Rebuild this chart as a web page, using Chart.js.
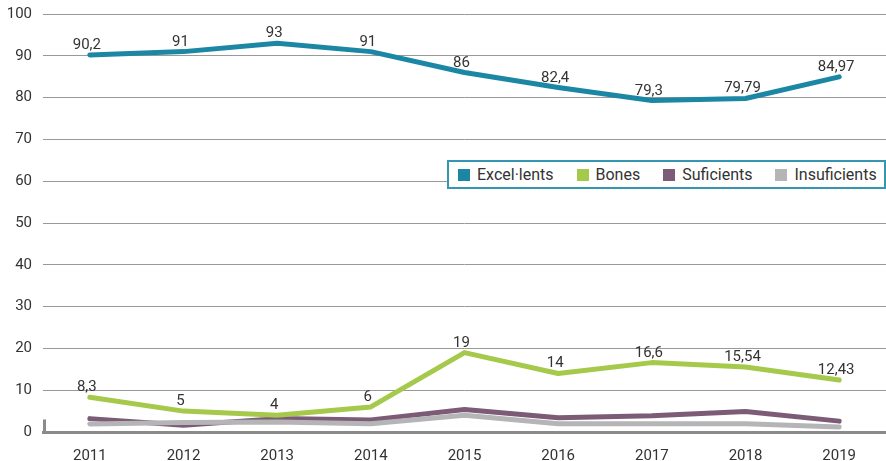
<!DOCTYPE html>
<html>
<head>
<meta charset="utf-8">
<script src="https://cdn.jsdelivr.net/npm/chart.js@4/dist/chart.umd.min.js"></script>
<style>
  html, body { margin: 0; padding: 0; background: #fff; }
  #wrap { position: relative; width: 886px; height: 461px; }
  #chart { position: absolute; left: 0; top: 0; }
  #legend {
    position: absolute; left: 447px; top: 160px; width: 426px; height: 25px;
    border: 2px solid #3596b2; background: #fff;
    font: 16px Roboto, "Liberation Sans", sans-serif; color: #333;
    display: flex; align-items: center; padding-left: 9px; box-sizing: content-box;
  }
  #legend .item { display: flex; align-items: center; margin-right: 23px; white-space: nowrap; }
  #legend .sw { width: 12px; height: 12px; margin-right: 7px; }
</style>
</head>
<body>
<div id="wrap">
  <canvas id="chart" width="886" height="461"></canvas>
  <div id="legend"></div>
</div>
<script>
// Categories and series
const years = ['2011', '2012', '2013', '2014', '2015', '2016', '2017', '2018', '2019'];
const excelLents   = [90.2, 91, 93, 91, 86, 82.4, 79.3, 79.79, 84.97];
const bones        = [8.3, 5, 4, 6, 19, 14, 16.6, 15.54, 12.43];
const suficients   = [3.2, 1.6, 3.2, 2.9, 5.4, 3.4, 3.9, 4.9, 2.6];
const insuficients = [1.9, 2.3, 2.4, 2.0, 4.0, 2.0, 2.0, 2.0, 1.2];
const seriesNames  = ['Excel·lents', 'Bones', 'Suficients', 'Insuficients'];
const seriesColors = ['#1b87a4', '#a5c94a', '#7b5b76', '#b5b5b7'];
const yMin = 0, yMax = 100, yStep = 10;

const FONT = 'Roboto, "Liberation Sans", sans-serif';

function mkLine(i, data, order, labelled) {
  return {
    label: seriesNames[i],
    data: data,
    borderColor: seriesColors[i],
    backgroundColor: seriesColors[i],
    borderWidth: 5,
    pointRadius: 0,
    pointHoverRadius: 0,
    tension: 0,
    borderCapStyle: 'round',
    borderJoinStyle: 'round',
    fill: false,
    order: order,
    showValues: labelled
  };
}

// Value labels above the two upper series
const valueLabels = {
  id: 'valueLabels',
  afterDatasetsDraw(chart) {
    const ctx = chart.ctx;
    ctx.save();
    ctx.font = '15px ' + FONT;
    ctx.fillStyle = '#333';
    ctx.textAlign = 'center';
    ctx.textBaseline = 'alphabetic';
    chart.data.datasets.forEach((ds, di) => {
      if (!ds.showValues) return;
      const meta = chart.getDatasetMeta(di);
      meta.data.forEach((pt, i) => {
        const txt = String(ds.data[i]).replace('.', ',');
        ctx.fillText(txt, pt.x - 3, pt.y - 6);
      });
    });
    ctx.restore();
  }
};

// Short vertical stub at the foot of the value axis
const axisStub = {
  id: 'axisStub',
  afterDraw(chart) {
    const ctx = chart.ctx;
    const y = chart.scales.y;
    const x0 = chart.chartArea.left + 1.5;
    ctx.save();
    ctx.strokeStyle = '#8a8a8a';
    ctx.lineWidth = 3;
    ctx.beginPath();
    ctx.moveTo(x0, y.getPixelForValue(3));
    ctx.lineTo(x0, y.getPixelForValue(0));
    ctx.stroke();
    ctx.restore();
  }
};

new Chart(document.getElementById('chart'), {
  type: 'line',
  data: {
    labels: years,
    datasets: [
      mkLine(0, excelLents, 1, true),
      mkLine(1, bones, 2, true),
      mkLine(2, suficients, 4, false),
      mkLine(3, insuficients, 3, false)
    ]
  },
  options: {
    responsive: false,
    animation: false,
    devicePixelRatio: 1,
    layout: { padding: { top: 14, right: 0, bottom: 0, left: 0 } },
    plugins: { legend: { display: false }, tooltip: { enabled: false } },
    scales: {
      x: {
        offset: true,
        grid: { display: false, drawTicks: false },
        border: { display: true, color: '#8a8a8a', width: 3 },
        ticks: { color: '#333', font: { family: FONT, size: 15 }, padding: 15, maxRotation: 0 },
        afterFit(scale) { scale.height = 29; }
      },
      y: {
        min: yMin, max: yMax,
        grid: { color: '#999', lineWidth: 1, drawTicks: false },
        border: { display: false },
        ticks: { stepSize: yStep, color: '#333', font: { family: FONT, size: 15 }, padding: 11 },
        afterFit(scale) {
          scale.width = 43;
          scale.paddingTop = 0;
          scale.paddingBottom = 0;
        }
      }
    }
  },
  plugins: [valueLabels, axisStub]
});

// Legend built from the series names and colours
const legend = document.getElementById('legend');
seriesNames.forEach((name, i) => {
  const item = document.createElement('div');
  item.className = 'item';
  const sw = document.createElement('span');
  sw.className = 'sw';
  sw.style.background = seriesColors[i];
  const tx = document.createElement('span');
  tx.textContent = name;
  item.appendChild(sw);
  item.appendChild(tx);
  legend.appendChild(item);
});
</script>
</body>
</html>
